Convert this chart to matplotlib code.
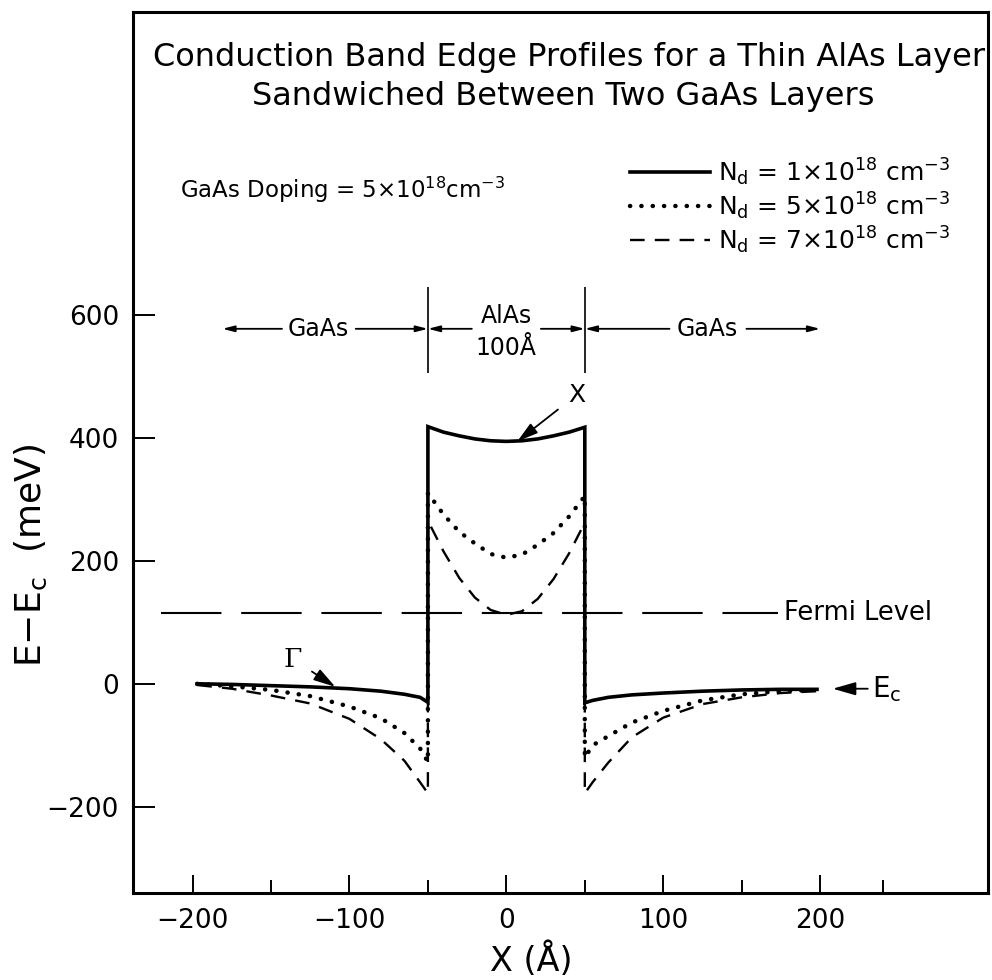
import matplotlib
matplotlib.use('Agg')
import matplotlib.pyplot as plt
from matplotlib.ticker import FixedLocator

# position (Angstrom) and band edge (meV) for the three doping levels
x_left = [-197, -175, -150, -125, -100, -80, -65, -55, -50]
x_alas = [-50, -40, -30, -20, -10, 0, 10, 20, 30, 40, 50]
x_right = [50, 55, 65, 80, 100, 125, 150, 175, 198]

solid_left = [0, -1, -3, -5, -8, -12, -17, -22, -30]
solid_alas = [418, 409, 403, 398, 395, 394, 395, 398, 403, 409, 417]
solid_right = [-31, -27, -22, -18, -15, -12, -10, -9, -9]

dotted_left = [0, -4, -10, -20, -37, -56, -80, -105, -127]
dotted_alas = [310, 275, 247, 228, 211, 205, 210, 226, 245, 272, 305]
dotted_right = [-120, -100, -85, -63, -44, -27, -17, -12, -10]

dashed_left = [-2, -8, -19, -32, -57, -90, -125, -160, -178]
dashed_alas = [265, 215, 172, 140, 120, 112, 118, 138, 170, 212, 262]
dashed_right = [-178, -160, -128, -87, -55, -33, -22, -15, -12]

labels = [r'N$_\mathrm{d}$ = 1$\times$10$^{18}$ cm$^{-3}$',
          r'N$_\mathrm{d}$ = 5$\times$10$^{18}$ cm$^{-3}$',
          r'N$_\mathrm{d}$ = 7$\times$10$^{18}$ cm$^{-3}$']

fermi_level = 115
layer_edges = [-50, 50]
xticks = [-200, -100, 0, 100, 200]
xminor = [-150, -50, 50, 150, 240]
yticks = [-200, 0, 200, 400, 600]

fig = plt.figure(figsize=(9.92, 9.80), dpi=100)
ax = fig.add_axes([0.134, 0.0888, 0.862, 0.899])
ax.set_xlim(-238, 307)
ax.set_ylim(-340, 1092)

xs = x_left + x_alas + x_right
l1, = ax.plot(xs, solid_left + solid_alas + solid_right, color='black', lw=2.6,
              solid_joinstyle='miter')
l2, = ax.plot(xs, dotted_left + dotted_alas + dotted_right, color='black', lw=3.2,
              linestyle=(0, (0.05, 2.5)), dash_capstyle='round')
l3, = ax.plot(xs, dashed_left + dashed_alas + dashed_right, color='black', lw=1.7,
              linestyle=(0, (6.2, 4.3)))

# Fermi level
ax.plot([-220, 173], [fermi_level, fermi_level], color='black', lw=1.5,
        linestyle=(0, (29, 9.5)))
ax.text(177, fermi_level, 'Fermi Level', fontsize=18.5, va='center', ha='left')

# layer boundaries
ax.vlines(layer_edges, 505, 645, color='black', lw=1.2)

arrow = dict(arrowstyle='-|>,head_length=0.7,head_width=0.18', color='black',
             lw=1.3, shrinkA=0, shrinkB=0)
row = 577
for tail, tip in [(-143, -181), (-96, -50), (-22, -50), (22, 50), (104, 50), (153, 200)]:
    ax.annotate('', xy=(tip, row), xytext=(tail, row), arrowprops=arrow)
ax.text(-120, row, 'GaAs', fontsize=17, ha='center', va='center')
ax.text(128, row, 'GaAs', fontsize=17, ha='center', va='center')
ax.text(0, 598, 'AlAs', fontsize=17, ha='center', va='center')
ax.text(0, 545, '100Å', fontsize=17, ha='center', va='center')

# valley labels
ax.annotate('X', xy=(7, 394), xytext=(45, 470), fontsize=18, ha='center', va='center',
            arrowprops=dict(arrowstyle='-|>,head_length=0.7,head_width=0.2',
                            color='black', lw=1.3, shrinkA=7, shrinkB=0))
ax.annotate('Γ', xy=(-109, -5), xytext=(-136, 40), fontsize=19, family='DejaVu Serif',
            ha='center', va='center',
            arrowprops=dict(arrowstyle='-|>,head_length=0.7,head_width=0.2',
                            color='black', lw=1.3, shrinkA=6, shrinkB=0))
ax.annotate(r'E$_\mathrm{c}$', xy=(208, -8), xytext=(233, -8), fontsize=20,
            ha='left', va='center',
            arrowprops=dict(arrowstyle='-|>,head_length=0.7,head_width=0.2',
                            color='black', lw=1.3, shrinkA=1, shrinkB=0))

# titles and notes
ax.text(40, 1018, 'Conduction Band Edge Profiles for a Thin AlAs Layer',
        fontsize=23, ha='center', va='center')
ax.text(36, 955, 'Sandwiched Between Two GaAs Layers',
        fontsize=23, ha='center', va='center')
ax.text(-208, 803, r'GaAs Doping = 5$\times$10$^{18}$cm$^{-3}$', fontsize=16.5,
        ha='left', va='center')

ax.legend([l1, l2, l3], labels, loc='upper left', bbox_to_anchor=(0.581, 0.836),
          frameon=False, fontsize=18, handlelength=3.2, handletextpad=0.32,
          labelspacing=0.1, borderpad=0, borderaxespad=0)

# axes styling
for s in ax.spines.values():
    s.set_linewidth(2.2)
ax.set_xticks(xticks)
ax.xaxis.set_minor_locator(FixedLocator(xminor))
ax.set_yticks(yticks)
ax.tick_params(axis='both', which='both', direction='in', width=1.4, labelsize=19,
               top=False, right=False)
ax.tick_params(axis='x', which='major', length=13, pad=11)
ax.tick_params(axis='x', which='minor', length=9.5)
ax.tick_params(axis='y', which='major', length=16, pad=10)

fig.text(0.5355, 0.020, 'X (Å)', fontsize=24, ha='center', va='center')
fig.text(0.031, 0.433, r'E$-$E$_\mathrm{c}$  (meV)', fontsize=26, rotation=90,
         ha='center', va='center')

fig.savefig('out.png', dpi=100)
